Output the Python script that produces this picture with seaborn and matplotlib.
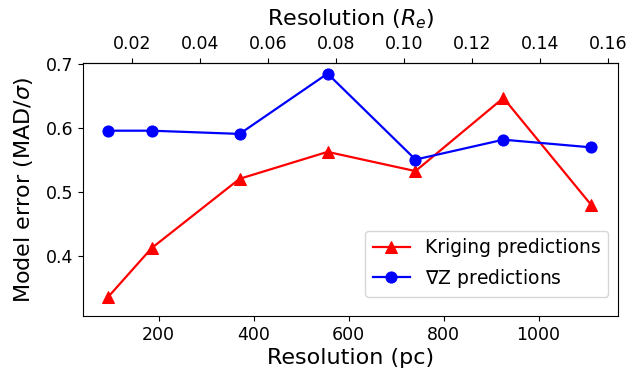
import matplotlib
matplotlib.use("Agg")
import matplotlib.pyplot as plt
import seaborn as sns
import pandas as pd

resolution_pc = [92.6, 185.2, 370.4, 555.6, 740.8, 926.0, 1111.2]
kriging = [0.336, 0.413, 0.521, 0.563, 0.533, 0.647, 0.480]
gradz = [0.596, 0.596, 0.591, 0.685, 0.551, 0.582, 0.570]
pc_per_re = 7165.0

df_k = pd.DataFrame({"res": resolution_pc, "err": kriging})
df_g = pd.DataFrame({"res": resolution_pc, "err": gradz})

fig = plt.figure(figsize=(6.35, 3.71), dpi=100)
ax = fig.add_axes([0.131, 0.148, 0.842, 0.683])

sns.lineplot(data=df_k, x="res", y="err", ax=ax, color="red", marker="^",
             markersize=9, linewidth=1.6, markeredgecolor="red",
             label="Kriging predictions")
sns.lineplot(data=df_g, x="res", y="err", ax=ax, color="blue", marker="o",
             markersize=8, linewidth=1.6, markeredgecolor="blue",
             label=r"$\nabla$Z predictions")

ax.set_xlim(41, 1167)
ax.set_ylim(0.307, 0.702)
ax.set_xticks([200, 400, 600, 800, 1000])
ax.set_yticks([0.4, 0.5, 0.6, 0.7])
ax.tick_params(labelsize=12.5)
ax.set_xlabel("Resolution (pc)", fontsize=16, labelpad=3)
ax.set_ylabel(r"Model error (MAD/$\sigma$)", fontsize=16, labelpad=8)

sec = ax.secondary_xaxis("top", functions=(lambda x: x / pc_per_re,
                                            lambda x: x * pc_per_re))
sec.set_xticks([0.02, 0.04, 0.06, 0.08, 0.10, 0.12, 0.14, 0.16])
sec.tick_params(labelsize=12.5)
sec.set_xlabel(r"Resolution ($R_e$)", fontsize=16, labelpad=7)

ax.legend(loc="lower right", fontsize=13.5, borderaxespad=0.5,
          bbox_to_anchor=(1.0, 0.038))

fig.savefig("out.png", dpi=100)
